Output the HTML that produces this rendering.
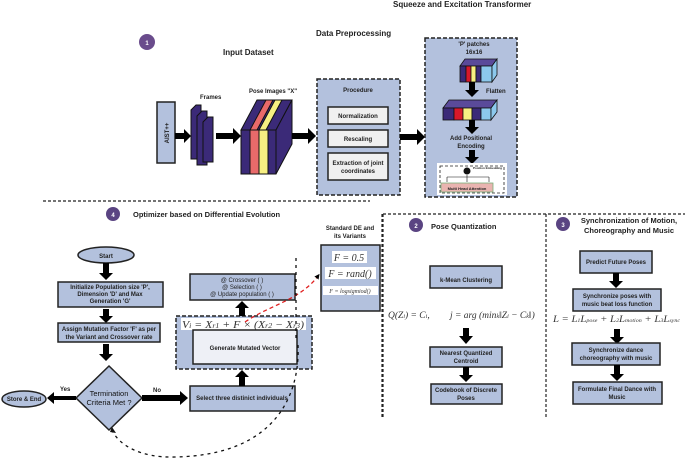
<!DOCTYPE html>
<html><head><meta charset="utf-8"><style>
html,body{margin:0;padding:0;background:#fff;}
svg{display:block;}
text{font-family:"Liberation Sans",sans-serif;font-weight:bold;fill:#222;}
.s{font-size:6px;}
.m{font-size:7.5px;}
.t{font-size:8px;}
.f{font-family:"Liberation Serif",serif;font-style:italic;font-weight:normal;fill:#333;}
.b{fill:#b3c1dd;stroke:#222;stroke-width:1.5;}
.d{fill:#b3c1dd;stroke:#222;stroke-width:1.5;stroke-dasharray:4,2;}
.w{fill:#f0f0f0;stroke:#222;stroke-width:1.5;}
.dl{stroke:#222;stroke-width:1.2;stroke-dasharray:3,2;fill:none;}
</style></head><body>
<svg width="685" height="459" viewBox="0 0 685 459" xmlns="http://www.w3.org/2000/svg">
<defs>
<marker id="ah" markerWidth="4" markerHeight="4" refX="2" refY="2" orient="auto" markerUnits="strokeWidth"><path d="M0,0 L4,2 L0,4 z" fill="#000"/></marker>
</defs>
<text x="393" y="7" class="t">Squeeze and Excitation Transformer</text>
<text x="316" y="36" class="t">Data Preprocessing</text>
<circle cx="147" cy="42" r="8" fill="#6a4c8c"/><text x="147" y="45" class="s" style="fill:#fff" text-anchor="middle">1</text>
<text x="223" y="55" class="t">Input Dataset</text>
<rect x="157" y="102" width="18" height="61" class="b"/>
<text transform="translate(169,133) rotate(-90)" class="s" text-anchor="middle">AIST++</text>
<path d="M175,133 h9 v-4 l7,7 l-7,7 v-4 h-9z" fill="#000"/>
<text x="200" y="99" class="s">Frames</text>
<g fill="#3b2a78" stroke="#111" stroke-width="1">
<path d="M191,110 l5,-5 h5 v54 l-5,0 h-5z"/>
<path d="M197,116 l5,-5 h5 v54 l-5,0 h-5z"/>
<path d="M203,122 l5,-5 h5 v45 l-5,0 h-5z"/>
</g>
<path d="M216,133 h17 v-5 l8,8 l-8,8 v-5 h-17z" fill="#000"/>
<text x="249" y="93" class="s">Pose Images "X"</text>
<g stroke="#111" stroke-width="1">
<path d="M241,130 l16,-30 h35 l-16,30z" fill="#3b2a78"/>
<path d="M276,130 l16,-30 v44 l-16,30z" fill="#3b2a78"/>
<rect x="241" y="130" width="9" height="44" fill="#3b2a78"/>
<rect x="250" y="130" width="9" height="44" fill="#e86a6a"/>
<rect x="259" y="130" width="9" height="44" fill="#f7ef82"/>
<rect x="268" y="130" width="8" height="44" fill="#3b2a78"/>
<path d="M250,130 l16,-30 h7 l-16,30z" fill="#e86a6a"/>
<path d="M259,130 l16,-30 h7 l-16,30z" fill="#f7ef82"/>
</g>
<path d="M292,133 h16 v-5 l8,8 l-8,8 v-5 h-16z" fill="#000"/>
<rect x="317" y="79" width="83" height="116" class="d"/>
<text x="358" y="92" class="s" text-anchor="middle">Procedure</text>
<rect x="328" y="107" width="60" height="17" class="w"/><text x="358" y="118" class="s" text-anchor="middle">Normalization</text>
<rect x="328" y="130" width="60" height="17" class="w"/><text x="358" y="141" class="s" text-anchor="middle">Rescaling</text>
<rect x="328" y="153" width="60" height="27" class="w"/><text x="358" y="165" class="s" text-anchor="middle">Extraction of joint</text><text x="358" y="173" class="s" text-anchor="middle">coordinates</text>
<path d="M400,134 h17 v-5 l8,8 l-8,8 v-5 h-17z" fill="#000"/>
<rect x="425" y="38" width="92" height="159" class="d"/>
<text x="474" y="46" class="s" text-anchor="middle">'P' patches</text>
<text x="474" y="54" class="s" text-anchor="middle">16x16</text>
<g stroke="#111" stroke-width="0.8">
<path d="M460,66 l5,-7 h32 l-5,7z" fill="#5a4a9a"/>
<rect x="460" y="66" width="6" height="16" fill="#3b2a78"/>
<rect x="466" y="66" width="5" height="16" fill="#d8182a"/>
<rect x="471" y="66" width="5" height="16" fill="#f7ef82"/>
<rect x="476" y="66" width="5" height="16" fill="#3b2a78"/>
<rect x="481" y="66" width="11" height="16" fill="#8cc8ec"/>
<path d="M492,66 l5,-7 v16 l-5,7z" fill="#8cc8ec"/>
</g>
<path d="M469,82 h6 v8 h4 l-7,7 l-7,-7 h4z" fill="#000"/>
<text x="486" y="93" class="s">Flatten</text>
<g stroke="#111" stroke-width="0.8">
<path d="M443,108 l6,-8 h48 l-6,8z" fill="#5a4a9a"/>
<rect x="443" y="108" width="11" height="12" fill="#3b2a78"/>
<rect x="454" y="108" width="9" height="12" fill="#d8182a"/>
<rect x="463" y="108" width="9" height="12" fill="#f7ef82"/>
<rect x="472" y="108" width="9" height="12" fill="#3b2a78"/>
<rect x="481" y="108" width="10" height="12" fill="#8cc8ec"/>
<path d="M491,108 l6,-8 v12 l-6,8z" fill="#8cc8ec"/>
</g>
<path d="M469,120 h6 v7 h4 l-7,7 l-7,-7 h4z" fill="#000"/>
<text x="471" y="140" class="s" text-anchor="middle">Add Positional</text>
<text x="471" y="148" class="s" text-anchor="middle">Encoding</text>
<path d="M469,150 h6 v7 h4 l-7,7 l-7,-7 h4z" fill="#000"/>
<rect x="437" y="163" width="70" height="32" fill="#fff"/>
<rect x="440" y="166" width="64" height="27" fill="none" stroke="#222" stroke-width="0.8" stroke-dasharray="3,2"/>
<circle cx="467" cy="171" r="3.5" fill="#111"/>
<text x="473" y="169" style="font-size:3px">Position Embedding</text>
<path d="M447,177 h42 M447,177 v5 M467,175 v7 M489,177 v5" stroke="#111" stroke-width="0.6" fill="none"/>
<rect x="441" y="183" width="52" height="9" fill="#e9b4b0" stroke="#7ab07a" stroke-width="0.8"/>
<text x="467" y="190" style="font-size:4px" text-anchor="middle">Multi Head Attention</text>
<line x1="43" y1="201" x2="370" y2="201" class="dl"/>
<line x1="383" y1="214" x2="685" y2="214" class="dl"/>
<line x1="383" y1="214" x2="383" y2="418" class="dl"/>
<line x1="546" y1="214" x2="546" y2="418" class="dl"/>
<circle cx="113" cy="214" r="7" fill="#5a4482"/><text x="113" y="217" class="s" style="fill:#fff" text-anchor="middle">4</text>
<text x="133" y="217" class="m">Optimizer based on Differential Evolution</text>
<ellipse cx="106" cy="255" rx="28" ry="8" class="b"/><text x="106" y="258" class="s" text-anchor="middle">Start</text>
<path d="M103,263 h6 v10 h4 l-7,7 l-7,-7 h4z" fill="#000"/>
<rect x="58" y="282" width="105" height="25" class="b"/>
<text x="110" y="289" class="s" text-anchor="middle">Initialize Population size 'P',</text>
<text x="110" y="296" class="s" text-anchor="middle">Dimension 'D' and Max</text>
<text x="110" y="303" class="s" text-anchor="middle">Generation 'G'</text>
<path d="M103,309 h6 v7 h4 l-7,7 l-7,-7 h4z" fill="#000"/>
<rect x="58" y="323" width="102" height="19" class="b"/>
<text x="109" y="331" class="s" text-anchor="middle">Assign Mutation Factor 'F' as per</text>
<text x="109" y="339" class="s" text-anchor="middle">the Variant and Crossover rate</text>
<path d="M103,344 h6 v10 h4 l-7,7 l-7,-7 h4z" fill="#000"/>
<path d="M109,366 l33,32 l-33,32 l-33,-32z" class="b"/>
<text x="109" y="396" class="m" text-anchor="middle" style="font-weight:normal;fill:#111">Termination</text>
<text x="109" y="405" class="m" text-anchor="middle" style="font-weight:normal;fill:#111">Criteria Met ?</text>
<path d="M76,396 h-22 v-4 l-7,6 l7,6 v-4 h22z" fill="#000"/>
<text x="60" y="391" class="s">Yes</text>
<ellipse cx="24" cy="399" rx="22" ry="8" class="b"/><text x="24" y="401" class="s" text-anchor="middle">Store &amp; End</text>
<path d="M142,395 h38 v-4 l8,7 l-8,7 v-4 h-38z" fill="#000"/>
<text x="153" y="392" class="s">No</text>
<rect x="190" y="386" width="105" height="25" class="b"/>
<text x="242" y="400" class="s" text-anchor="middle">Select three distinict individuals</text>
<path d="M239,386 v-9 h-4 l7,-7 l7,7 h-4 v9z" fill="#000"/>
<rect x="176" y="316" width="136" height="53" class="d"/>
<rect x="181" y="318" width="125" height="12" fill="#fff"/>
<text x="182" y="328" class="f" style="font-size:10.5px" textLength="122" lengthAdjust="spacingAndGlyphs">V<tspan font-size="7">i</tspan> = X<tspan font-size="7">r1</tspan> + F × (X<tspan font-size="7">r2</tspan> − X<tspan font-size="7">r3</tspan>)</text>
<rect x="193" y="330" width="104" height="34" fill="#eef0f6" stroke="#222" stroke-width="1.5"/>
<text x="245" y="350" class="s" text-anchor="middle">Generate Mutated Vector</text>
<path d="M239,316 v-8 h-4 l7,-7 l7,7 h-4 v8z" fill="#000"/>
<rect x="190" y="274" width="105" height="26" class="b"/>
<text x="242" y="282" class="s" text-anchor="middle" style="font-weight:normal">@ Crossover ( )</text>
<text x="242" y="289" class="s" text-anchor="middle" style="font-weight:normal">@  Selection ( )</text>
<text x="242" y="296" class="s" text-anchor="middle" style="font-weight:normal">@ Update population ( )</text>
<text x="350" y="230" class="s" text-anchor="middle">Standard DE and</text>
<text x="350" y="238" class="s" text-anchor="middle">its Variants</text>
<rect x="321" y="245" width="59" height="66" class="b"/>
<rect x="332" y="251" width="35" height="12" fill="#fff"/>
<text x="349" y="261" class="f" style="font-size:10px" text-anchor="middle">F = 0.5</text>
<rect x="325" y="267" width="51" height="12" fill="#fff"/>
<text x="350" y="277" class="f" style="font-size:10px" text-anchor="middle">F = rand()</text>
<rect x="323" y="286" width="55" height="9" fill="#fff"/>
<text x="350" y="293" class="f" style="font-size:6px" text-anchor="middle">F = logsigmiod()</text>
<path d="M245,322 C270,305 300,300 318,276" stroke="#e02020" stroke-width="1.3" stroke-dasharray="4,3" fill="none" marker-end="url(#ah)"/>
<path d="M296,258 v80 M298,345 C300,390 280,455 175,457 C140,458 120,445 113,432" stroke="#111" stroke-width="1.3" stroke-dasharray="3,4" fill="none"/>
<path d="M110,432 l6,1 l-4,-6z" fill="#111"/>
<line x1="382" y1="214" x2="382" y2="418" class="dl"/>
<circle cx="416" cy="225" r="7" fill="#5a4482"/><text x="416" y="228" class="s" style="fill:#fff" text-anchor="middle">2</text>
<text x="431" y="229" class="m">Pose Quantization</text>
<rect x="430" y="266" width="72" height="22" class="b"/><text x="466" y="282" class="s" text-anchor="middle">k-Mean Clustering</text>
<text x="388" y="318" class="f" style="font-size:9.5px">Q(Z<tspan font-size="6">i</tspan>) = C<tspan font-size="6">i</tspan>,</text>
<text x="450" y="318" class="f" style="font-size:9.5px">j = arg (min<tspan font-size="6">k</tspan>‖Z<tspan font-size="6">i</tspan> − C<tspan font-size="6">k</tspan>‖)</text>
<path d="M463,328 h6 v8 h4 l-7,8 l-7,-8 h4z" fill="#000"/>
<rect x="430" y="347" width="72" height="20" class="b"/>
<text x="466" y="355" class="s" text-anchor="middle">Nearest Quantized</text><text x="466" y="363" class="s" text-anchor="middle">Centroid</text>
<path d="M463,367 h6 v8 h4 l-7,7 l-7,-7 h4z" fill="#000"/>
<rect x="431" y="384" width="71" height="20" class="b"/>
<text x="466" y="392" class="s" text-anchor="middle">Codebook of Discrete</text><text x="466" y="400" class="s" text-anchor="middle">Poses</text>
<circle cx="563" cy="224" r="7" fill="#5a4482"/><text x="563" y="227" class="s" style="fill:#fff" text-anchor="middle">3</text>
<text x="629" y="223" class="m" text-anchor="middle">Synchronization of Motion,</text>
<text x="629" y="233" class="m" text-anchor="middle">Choreography and Music</text>
<rect x="580" y="251" width="72" height="22" class="b"/><text x="616" y="264" class="s" text-anchor="middle">Predict Future Poses</text>
<path d="M613,273 h6 v8 h4 l-7,7 l-7,-7 h4z" fill="#000"/>
<rect x="573" y="289" width="88" height="22" class="b"/>
<text x="617" y="298" class="s" text-anchor="middle">Synchronize poses with</text><text x="617" y="306" class="s" text-anchor="middle">music beat loss function</text>
<text x="553" y="322" class="f" style="font-size:9px" textLength="127" lengthAdjust="spacingAndGlyphs">L = L<tspan font-size="5">1</tspan>L<tspan font-size="5">pose</tspan> + L<tspan font-size="5">2</tspan>L<tspan font-size="5">motion</tspan> + L<tspan font-size="5">3</tspan>L<tspan font-size="5">sync</tspan></text>
<path d="M614,329 h6 v8 h4 l-7,7 l-7,-7 h4z" fill="#000"/>
<rect x="572" y="343" width="88" height="22" class="b"/>
<text x="616" y="352" class="s" text-anchor="middle">Synchronize dance</text><text x="616" y="360" class="s" text-anchor="middle">choreography with music</text>
<path d="M614,365 h6 v9 h4 l-7,7 l-7,-7 h4z" fill="#000"/>
<rect x="573" y="382" width="89" height="22" class="b"/>
<text x="617" y="391" class="s" text-anchor="middle">Formulate Final Dance with</text><text x="617" y="399" class="s" text-anchor="middle">Music</text>
</svg>
</body></html>
